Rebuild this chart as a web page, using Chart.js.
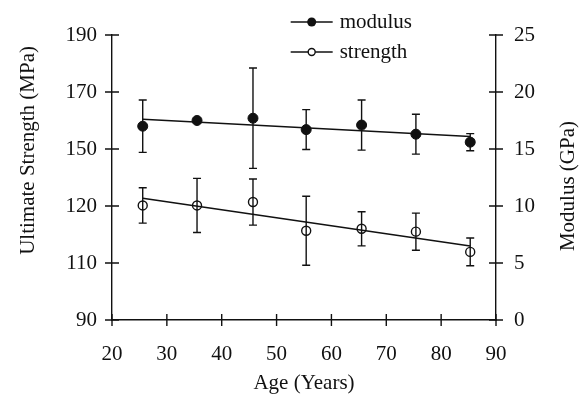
<!DOCTYPE html>
<html>
<head>
<meta charset="utf-8">
<script src="https://cdn.jsdelivr.net/npm/chart.js@4.4.0/dist/chart.umd.min.js"></script>
<style>
  html, body { margin: 0; padding: 0; background: #fff; }
  #wrap { width: 584px; height: 396px; }
</style>
</head>
<body>
<div id="wrap"><canvas id="myChart"></canvas></div>
<script>
// data
const ages = [25.6, 35.5, 45.7, 55.4, 65.5, 75.4, 85.3];
const modulus = [17.0, 17.5, 17.7, 16.7, 17.1, 16.3, 15.6];          // GPa, right axis
const modulusErr = [2.3, 0, 4.4, 1.75, 2.2, 1.75, 0.75];
const strength = [130.2, 130.2, 131.4, 121.3, 122.0, 121.0, 113.9];  // left axis
const strengthErr = [6.2, 9.5, 8.1, 12.1, 6.0, 6.5, 4.85];
const fitAges = [25.6, 85.3];
const modulusFit = [17.6, 16.1];
const strengthFit = [132.7, 116.0];
const strengthTickValues = [90, 110, 130, 150, 170, 190];
const strengthTickLabels = ['90', '110', '120', '150', '170', '190'];
const legendNames = ['modulus', 'strength'];

const ink = '#111';
const serif = "'Liberation Serif', 'DejaVu Serif', serif";
Chart.defaults.font.family = serif;
Chart.defaults.font.size = 21;
Chart.defaults.color = ink;

const pts = (xs, ys) => xs.map((x, i) => ({ x: x, y: ys[i] }));

// vertical error bars with caps
const errorBars = {
    id: 'errorBars',
    afterDatasetsDraw: (chart) => {
        const { ctx } = chart;
        ctx.save();
        ctx.strokeStyle = ink;
        ctx.lineWidth = 1.4;
        chart.data.datasets.forEach((ds, i) => {
            if (!ds.errors) return;
            const meta = chart.getDatasetMeta(i);
            const ys = chart.scales[ds.yAxisID];
            meta.data.forEach((el, j) => {
                const e = ds.errors[j];
                if (!e) return;
                const v = ds.data[j].y;
                const top = ys.getPixelForValue(v + e);
                const bot = ys.getPixelForValue(v - e);
                ctx.beginPath();
                ctx.moveTo(el.x, top); ctx.lineTo(el.x, bot);
                ctx.moveTo(el.x - 4, top); ctx.lineTo(el.x + 4, top);
                ctx.moveTo(el.x - 4, bot); ctx.lineTo(el.x + 4, bot);
                ctx.stroke();
            });
        });
        ctx.restore();
    }
};

// ticks crossing the axis lines, legend and vertical axis titles
const decor = {
    id: 'decor',
    afterDraw: (chart) => {
        const { ctx } = chart;
        const a = chart.chartArea;
        ctx.save();
        ctx.strokeStyle = ink;
        ctx.lineWidth = 1.4;
        ctx.beginPath();
        const sx = chart.scales.x;
        sx.ticks.forEach(t => {
            const px = sx.getPixelForValue(t.value);
            ctx.moveTo(px, a.bottom - 6); ctx.lineTo(px, a.bottom + 6);
        });
        [['yL', a.left], ['yR', a.right]].forEach(([id, ax]) => {
            const s = chart.scales[id];
            s.ticks.forEach(t => {
                const py = s.getPixelForValue(t.value);
                ctx.moveTo(ax - 7, py); ctx.lineTo(ax + 7, py);
            });
        });
        ctx.stroke();

        // legend
        const cx = a.left + (a.right - a.left) * 0.52;
        const rows = [a.top - 13, a.top + 17];
        ctx.font = '21px ' + serif;
        ctx.fillStyle = ink;
        ctx.textBaseline = 'middle';
        ctx.textAlign = 'left';
        rows.forEach((ry, i) => {
            ctx.beginPath();
            ctx.moveTo(cx - 21, ry); ctx.lineTo(cx + 21, ry);
            ctx.stroke();
            ctx.beginPath();
            ctx.arc(cx, ry, i === 0 ? 4.5 : 3.5, 0, Math.PI * 2);
            if (i === 0) { ctx.fill(); } else { ctx.fillStyle = '#fff'; ctx.fill(); ctx.fillStyle = ink; ctx.stroke(); }
            ctx.fillText(legendNames[i], cx + 28, ry);
        });

        // axis titles, both read bottom to top
        ctx.textAlign = 'center';
        ctx.save();
        ctx.translate(28, a.top + (a.bottom - a.top) * 0.405);
        ctx.rotate(-Math.PI / 2);
        ctx.fillText('Ultimate Strength (MPa)', 0, 0);
        ctx.restore();
        ctx.save();
        ctx.translate(a.right + 72, a.top + (a.bottom - a.top) * 0.53);
        ctx.rotate(-Math.PI / 2);
        ctx.fillText('Modulus (GPa)', 0, 0);
        ctx.restore();
        ctx.restore();
    }
};

const ctx1 = document.getElementById('myChart').getContext('2d');
const chart1 = new Chart(ctx1, {
    type: 'scatter',
    data: {
        datasets: [
            {
                label: 'modulus fit',
                data: pts(fitAges, modulusFit),
                yAxisID: 'yR',
                showLine: true,
                borderColor: ink,
                borderWidth: 1.5,
                pointRadius: 0,
            },
            {
                label: 'strength fit',
                data: pts(fitAges, strengthFit),
                yAxisID: 'yL',
                showLine: true,
                borderColor: ink,
                borderWidth: 1.5,
                pointRadius: 0,
            },
            {
                label: 'modulus',
                data: pts(ages, modulus),
                errors: modulusErr,
                yAxisID: 'yR',
                pointRadius: 5,
                pointBackgroundColor: ink,
                pointBorderColor: ink,
                pointBorderWidth: 1,
            },
            {
                label: 'strength',
                data: pts(ages, strength),
                errors: strengthErr,
                yAxisID: 'yL',
                pointRadius: 4.5,
                pointBackgroundColor: 'rgba(0, 0, 0, 0)',
                pointBorderColor: ink,
                pointBorderWidth: 1.4,
            },
        ],
    },
    options: {
        responsive: true,
        maintainAspectRatio: false,
        animation: false,
        layout: { padding: { top: 35, left: 0, right: 0, bottom: 0 } },
        plugins: {
            legend: { display: false },
            tooltip: { enabled: false },
        },
        scales: {
            x: {
                type: 'linear',
                min: 20,
                max: 90,
                grid: { display: false, drawTicks: false },
                border: { display: true, color: ink, width: 1.4 },
                ticks: { stepSize: 10, padding: 22 },
                title: { display: true, text: 'Age (Years)', padding: 0 },
                afterFit: (s) => { s.height = 76; },
            },
            yL: {
                type: 'linear',
                position: 'left',
                min: 90,
                max: 190,
                grid: { display: false, drawTicks: false },
                border: { display: true, color: ink, width: 1.4 },
                afterBuildTicks: (s) => { s.ticks = strengthTickValues.map(v => ({ value: v })); },
                ticks: {
                    padding: 15,
                    callback: (v) => strengthTickLabels[strengthTickValues.indexOf(v)],
                },
                afterFit: (s) => { s.width = 112; },
            },
            yR: {
                type: 'linear',
                position: 'right',
                min: 0,
                max: 25,
                grid: { display: false, drawTicks: false },
                border: { display: true, color: ink, width: 1.4 },
                ticks: { stepSize: 5, padding: 18 },
                afterFit: (s) => { s.width = 88; },
            },
        },
    },
    plugins: [errorBars, decor],
});
</script>
</body>
</html>
